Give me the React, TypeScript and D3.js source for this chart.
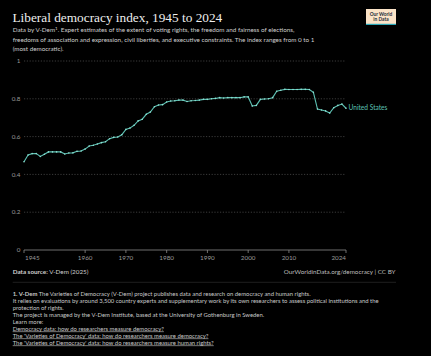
import React from "react";
import * as d3 from "d3";

const years: number[] = d3.range(1945, 2025);
const usValues: number[] = [
  0.467, 0.503, 0.51, 0.51, 0.495, 0.507, 0.519, 0.519, 0.519, 0.519,
  0.508, 0.513, 0.514, 0.522, 0.524, 0.534, 0.55, 0.554, 0.561, 0.568,
  0.573, 0.589, 0.596, 0.598, 0.61, 0.638, 0.645, 0.66, 0.683, 0.692,
  0.718, 0.73, 0.758, 0.767, 0.769, 0.783, 0.788, 0.79, 0.793, 0.793,
  0.786, 0.79, 0.791, 0.793, 0.797, 0.797, 0.8, 0.802, 0.806, 0.804,
  0.806, 0.806, 0.806, 0.806, 0.81, 0.81, 0.762, 0.765, 0.797, 0.799,
  0.8, 0.806, 0.84, 0.845, 0.85, 0.849, 0.849, 0.849, 0.85, 0.85,
  0.849, 0.834, 0.746, 0.741, 0.736, 0.725, 0.753, 0.765, 0.772, 0.75,
];
const seriesName = "United States";
const yTicks: number[] = [0, 0.2, 0.4, 0.6, 0.8, 1];
const xTicks: number[] = [1945, 1960, 1970, 1980, 1990, 2000, 2010, 2024];

const title = "Liberal democracy index, 1945 to 2024";
const subtitleLines = [
  "Expert estimates of the extent of voting rights, the freedom and fairness of elections,",
  "freedoms of association and expression, civil liberties, and executive constraints. The index ranges from 0 to 1",
  "(most democratic).",
];
const noteLines: { text: string; underline?: boolean }[] = [
  { text: "It relies on evaluations by around 3,500 country experts and supplementary work by its own researchers to assess political institutions and the" },
  { text: "protection of rights." },
  { text: "The project is managed by the V-Dem Institute, based at the University of Gothenburg in Sweden." },
  { text: "Learn more:" },
  { text: "Democracy data: how do researchers measure democracy?", underline: true },
  { text: "The 'Varieties of Democracy' data: how do researchers measure democracy?", underline: true },
  { text: "The 'Varieties of Democracy' data: how do researchers measure human rights?", underline: true },
];

const W = 431;
const H = 356;
const LINE = "#5cc1b3";
const SANS = "Lato, 'Noto Sans', sans-serif";

export default function App() {
  const x = d3.scaleLinear().domain([1945, 2024]).range([24, 346]);
  const y = d3.scaleLinear().domain([0, 1]).range([250, 61]);
  const line = d3
    .line<number>()
    .x((_, i) => x(years[i]))
    .y((d) => y(d));
  const lastY = y(usValues[usValues.length - 1]);

  return (
    <svg
      width={W}
      height={H}
      style={{ position: "absolute", left: 0, top: 0, background: "#000" }}
      fontFamily={SANS}
    >
      <rect width={W} height={H} fill="#000" />
      <text x={12.5} y={21.5} fill="#eeeeee" fontSize={13.3} fontFamily="'Liberation Serif', 'DejaVu Serif', serif">
        {title}
      </text>
      <text x={12.7} y={32} fill="#cfcfcf" fontSize={6.3}>
        <tspan>Data by V-Dem</tspan>
        <tspan dy={-2.5} fontSize={4.5}>1</tspan>
        <tspan dy={2.5}>. {subtitleLines[0]}</tspan>
      </text>
      {subtitleLines.slice(1).map((t, i) => (
        <text key={i} x={12.7} y={41.7 + i * 9.7} fill="#cfcfcf" fontSize={6.3}>
          {t}
        </text>
      ))}

      {/* logo */}
      <rect x={366} y={9} width={30} height={16} fill="#fbe3c7" />
      <rect x={366} y={23.8} width={30} height={1.2} fill="#2aa7b8" />
      <text x={381} y={15.6} textAnchor="middle" fill="#1d2b3a" fontSize={4.8} fontWeight={700}>Our World</text>
      <text x={381} y={20.8} textAnchor="middle" fill="#1d2b3a" fontSize={4.8} fontWeight={700}>in Data</text>

      {/* grid */}
      {yTicks.filter((t) => t > 0).map((t) => (
        <line key={t} x1={24} x2={346} y1={y(t)} y2={y(t)} stroke="#555" strokeWidth={0.7} strokeDasharray="1.2,1.6" />
      ))}
      {yTicks.map((t) => (
        <text key={t} x={20.5} y={y(t) + 2.2} textAnchor="end" fill="#9a9a9a" fontSize={6.3}>
          {d3.format("~g")(t)}
        </text>
      ))}
      <line x1={24} x2={346} y1={y(0)} y2={y(0)} stroke="#8a8a8a" strokeWidth={0.8} />
      {xTicks.map((t, i) => (
        <g key={t}>
          <line x1={x(t)} x2={x(t)} y1={y(0)} y2={y(0) + 3} stroke="#8a8a8a" strokeWidth={0.8} />
          <text
            x={i === 0 ? x(t) + 1 : x(t)}
            y={259.5}
            textAnchor={i === 0 ? "start" : i === xTicks.length - 1 ? "end" : "middle"}
            fill="#9a9a9a"
            fontSize={6.3}
          >
            {t}
          </text>
        </g>
      ))}

      {/* series */}
      <path d={line(usValues) || ""} fill="none" stroke={LINE} strokeWidth={1.1} />
      {usValues.map((v, i) => (
        <circle key={i} cx={x(years[i])} cy={y(v)} r={0.8} fill="#8fe0d3" />
      ))}
      <text x={348.5} y={lastY + 2} fill={LINE} fontSize={6.6}>
        {seriesName}
      </text>

      {/* footer */}
      <text x={12.7} y={273.5} fill="#cfcfcf" fontSize={6.3}>
        <tspan fontWeight={700}>Data source:</tspan> V-Dem (2025)
      </text>
      <text x={395.5} y={273.5} textAnchor="end" fill="#bdbdbd" fontSize={6.3}>
        OurWorldinData.org/democracy | CC BY
      </text>
      <line x1={12.7} x2={396} y1={282.3} y2={282.3} stroke="#333" strokeWidth={0.6} />
      <text x={12.7} y={295.5} fill="#c8c8c8" fontSize={5.9}>
        <tspan fontWeight={700}>1. V-Dem</tspan> The Varieties of Democracy (V-Dem) project publishes data and research on democracy and human rights.
      </text>
      {noteLines.map((l, i) => (
        <text
          key={i}
          x={12.7}
          y={302.5 + i * 7}
          fill="#c8c8c8"
          fontSize={5.9}
          textDecoration={l.underline ? "underline" : undefined}
        >
          {l.text}
        </text>
      ))}
    </svg>
  );
}
